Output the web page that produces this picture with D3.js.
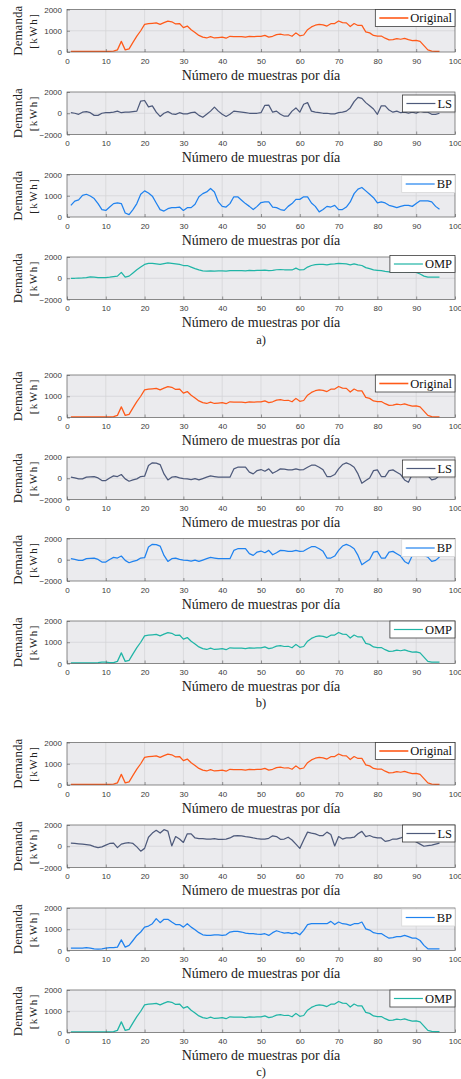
<!DOCTYPE html>
<html>
<head>
<meta charset="utf-8">
<script src="https://cdn.jsdelivr.net/npm/d3@7"></script>
<style>
  html, body { margin: 0; padding: 0; background: #ffffff; }
  svg { display: block; }
  .serif { font-family: "Liberation Serif", "Times New Roman", Times, "DejaVu Serif", serif; }
  .sans { font-family: "Liberation Sans", Arial, Helvetica, sans-serif; }
</style>
</head>
<body>
<svg id="chart" width="461" height="1079"></svg>
<script>
// ---- data: demand per sample (96 samples per day), kWh ----
const samples = d3.range(1, 97);
const xTickValues = [0, 10, 20, 30, 40, 50, 60, 70, 80, 90, 100];
const yTicksPositive = [0, 1000, 2000];
const yTicksSigned = [-2000, 0, 2000];
const xLabelText = "Número de muestras por día";
const yLabelText = "Demanda";
const yUnitText = "[kWh]";
const groupLabels = ["a)", "b)", "c)"];

const original = [
  30, 30, 30, 30, 30, 30, 30, 30, 30, 30, 30, 40, 100, 500, 100, 150, 450, 750, 1000, 1300,
  1330, 1350, 1370, 1300, 1380, 1450, 1420, 1320, 1340, 1150, 1220, 1050, 920, 780, 700, 660, 720, 660, 680, 700,
  650, 740, 720, 720, 720, 700, 730, 720, 730, 740, 780, 700, 740, 820, 840, 800, 810, 740, 900, 760,
  800, 1050, 1180, 1260, 1300, 1280, 1220, 1330, 1340, 1460, 1380, 1370, 1200, 1340, 1250, 1250, 950, 900, 780, 750,
  750, 650, 570, 580, 630, 600, 640, 580, 540, 550, 500, 300, 100, 40, 30, 30
];

const lsA = [
  50, 0, -100, 100, 150, 50, -200, -200, 0, 50, 50, 100, 200, 50, 100, 100, 150, 200, 1150, 1200,
  600, 700, 100, -300, 0, 150, -50, -100, 50, -50, -50, 50, 100, -200, -380, -100, 200, 580, 200, -100,
  -300, -100, 200, 150, 100, 50, 0, 0, 0, 50, 750, 760, 100, 200, -100, -280, -280, 200, 500, 100,
  850, 1000, 200, 100, 50, 0, 0, -50, -50, 50, 100, 200, 500, 1100, 1500, 1400, 1000, 700, 400, -100,
  700, 700, 300, 100, 200, 50, 100, 0, 100, 0, 200, 100, 100, -100, -100, 0
];

const bpA = [
  550, 750, 810, 1020, 1070, 990, 870, 630, 350, 310, 470, 630, 660, 630, 190, 110, 350, 630, 1070, 1230,
  1130, 980, 660, 350, 280, 390, 440, 440, 470, 310, 440, 440, 600, 950, 1100, 1180, 1340, 1180, 710, 500,
  470, 630, 950, 950, 790, 630, 500, 350, 500, 680, 710, 710, 470, 440, 350, 310, 500, 630, 830, 830,
  950, 950, 660, 500, 240, 350, 500, 470, 550, 350, 350, 470, 710, 1100, 1310, 1390, 1230, 1070, 910, 660,
  710, 660, 550, 500, 440, 500, 550, 550, 500, 630, 760, 760, 760, 710, 500, 360
];

const ompA = [
  0, 0, 20, 30, 60, 120, 100, 60, 50, 60, 100, 150, 200, 550, 100, 200, 500, 800, 1050, 1300,
  1400, 1400, 1350, 1300, 1380, 1450, 1400, 1350, 1300, 1200, 1200, 1050, 900, 780, 700, 670, 700, 680, 690, 700,
  680, 720, 720, 720, 720, 700, 730, 720, 730, 740, 760, 720, 740, 800, 820, 800, 800, 780, 950, 780,
  800, 1050, 1200, 1280, 1300, 1300, 1250, 1330, 1350, 1400, 1380, 1350, 1250, 1350, 1250, 1200, 1000, 900, 780, 750,
  720, 650, 600, 600, 620, 600, 600, 580, 560, 550, 400, 200, 100, 100, 100, 100
];

const lsB = [
  100, 30, -60, -60, 100, 130, 160, 30, -220, -220, 30, 220, 160, 350, -60, -280, -160, -60, 160, 190,
  1200, 1450, 1420, 1290, 410, -160, 100, 160, 30, -30, -60, -130, -30, -160, -30, 100, 220, 160, 100, 100,
  100, 100, 880, 1040, 1040, 1040, 570, 410, 720, 820, 660, 880, 470, 660, 880, 850, 790, 790, 880, 790,
  820, 1040, 1230, 1230, 1040, 790, 160, 160, 350, 880, 1290, 1450, 1290, 1040, 410, -470, -220, 30, 720, 790,
  160, 160, 720, 790, 570, 350, -160, -380, 410, 600, 500, 400, 250, -160, -60, 250
];

const bpB = [
  100, 30, -60, -60, 100, 130, 160, 30, -220, -220, 30, 220, 160, 350, -60, -280, -160, -60, 160, 190,
  1200, 1450, 1420, 1290, 410, -160, 100, 160, 30, -30, -60, -130, -30, -160, -30, 100, 220, 160, 100, 100,
  100, 100, 880, 1040, 1040, 1040, 570, 410, 720, 820, 660, 880, 470, 660, 880, 850, 790, 790, 880, 790,
  820, 1040, 1230, 1230, 1040, 790, 160, 160, 350, 880, 1290, 1450, 1290, 1040, 410, -470, -220, 30, 720, 790,
  160, 160, 720, 790, 570, 350, -160, -380, 410, 600, 500, 400, 250, -160, -60, 250
];

const ompB = [
  30, 30, 30, 30, 30, 30, 30, 40, 60, 60, 40, 40, 100, 500, 100, 150, 450, 750, 1000, 1300,
  1330, 1350, 1370, 1300, 1380, 1450, 1420, 1320, 1340, 1150, 1220, 1050, 920, 780, 700, 660, 720, 660, 680, 700,
  650, 740, 720, 720, 720, 700, 730, 720, 730, 740, 780, 700, 740, 820, 840, 800, 810, 740, 900, 760,
  800, 1050, 1180, 1260, 1300, 1280, 1220, 1330, 1340, 1460, 1380, 1370, 1200, 1340, 1250, 1250, 950, 900, 780, 750,
  750, 650, 570, 580, 630, 600, 640, 580, 540, 550, 500, 300, 100, 60, 60, 60
];

const lsC = [
  290, 260, 230, 200, 160, 100, -30, -130, -60, 100, 260, 290, -130, 200, 290, 330, 260, -60, -460, -200,
  850, 1240, 1500, 1240, 1560, 1430, 30, 910, 680, 360, 1170, 1170, 780, 720, 720, 680, 680, 720, 650, 650,
  680, 780, 980, 1010, 980, 910, 850, 780, 720, 680, 680, 750, 980, 910, 650, 680, 850, 590, 200, -200,
  590, 1330, 1240, 1170, 1010, 1010, 1330, 1110, 30, 910, 680, 780, 780, 850, 1170, 1400, 910, 1010, 850, 780,
  780, 460, 520, 680, 680, 780, 910, 900, 700, 400, 200, 0, 50, 100, 200, 300
];

const bpC = [
  110, 110, 110, 110, 130, 110, 80, 60, 80, 110, 140, 140, 160, 500, 160, 240, 470, 710, 870, 1100,
  1150, 1260, 1500, 1310, 1470, 1470, 1340, 1220, 1220, 1100, 1260, 1100, 980, 840, 740, 710, 710, 740, 740, 710,
  740, 870, 900, 900, 870, 820, 790, 790, 770, 760, 790, 710, 840, 930, 870, 820, 840, 790, 840, 740,
  950, 1220, 1260, 1260, 1260, 1260, 1260, 1370, 1220, 1340, 1260, 1240, 1180, 1260, 1260, 1340, 1020, 960, 840, 800,
  800, 680, 580, 610, 650, 650, 710, 650, 580, 580, 470, 240, 80, 80, 80, 80
];

const ompC = [
  30, 30, 30, 30, 30, 30, 30, 30, 30, 30, 30, 40, 100, 500, 100, 150, 450, 750, 1000, 1300,
  1330, 1350, 1370, 1300, 1380, 1450, 1420, 1320, 1340, 1150, 1220, 1050, 920, 780, 700, 660, 720, 660, 680, 700,
  650, 740, 720, 720, 720, 700, 730, 720, 730, 740, 780, 700, 740, 820, 840, 800, 810, 740, 900, 760,
  800, 1050, 1180, 1260, 1300, 1280, 1220, 1330, 1340, 1460, 1380, 1370, 1200, 1340, 1250, 1250, 950, 900, 780, 750,
  750, 650, 570, 580, 630, 600, 640, 580, 540, 550, 500, 300, 100, 50, 40, 40
];

// ---- styling ----
const colors = {
  Original: "#ff5a19",
  LS: "#4e5a7b",
  BP: "#1f82ef",
  OMP: "#20b5a6"
};

// panel layout: top edge of each axes box
const panels = [
  { top: 9.5,   series: original, name: "Original", domain: [0, 2000],     ticks: yTicksPositive, legTop: 0 },
  { top: 92,    series: lsA,      name: "LS",       domain: [-2000, 2000], ticks: yTicksSigned,   legTop: 3 },
  { top: 174.5, series: bpA,      name: "BP",       domain: [0, 2000],     ticks: yTicksPositive, legTop: 1 },
  { top: 257,   series: ompA,     name: "OMP",      domain: [-2000, 2000], ticks: yTicksSigned,   legTop: -1.5 },
  { top: 375,   series: original, name: "Original", domain: [0, 2000],     ticks: yTicksPositive, legTop: 0 },
  { top: 457,   series: lsB,      name: "LS",       domain: [-2000, 2000], ticks: yTicksSigned,   legTop: 3 },
  { top: 538.5, series: bpB,      name: "BP",       domain: [-2000, 2000], ticks: yTicksSigned,   legTop: 1 },
  { top: 621,   series: ompB,     name: "OMP",      domain: [0, 2000],     ticks: yTicksPositive, legTop: 0 },
  { top: 742.5, series: original, name: "Original", domain: [0, 2000],     ticks: yTicksPositive, legTop: 0 },
  { top: 825,   series: lsC,      name: "LS",       domain: [-2000, 2000], ticks: yTicksSigned,   legTop: 0 },
  { top: 908,   series: bpC,      name: "BP",       domain: [0, 2000],     ticks: yTicksPositive, legTop: 1 },
  { top: 990,   series: ompC,     name: "OMP",      domain: [0, 2000],     ticks: yTicksPositive, legTop: 0 }
];
const groupLabelY = [344, 707, 1076];

const plotLeft = 67;
const plotRight = 455;
const plotH = 42.5;

const svg = d3.select("#chart");
const x = d3.scaleLinear().domain([0, 100]).range([plotLeft, plotRight]);
const tickFmt = d3.format("d");

panels.forEach((p) => {
  const y = d3.scaleLinear().domain(p.domain).range([p.top + plotH, p.top]);
  const g = svg.append("g");

  // plot area background
  g.append("rect")
    .attr("x", plotLeft).attr("y", p.top)
    .attr("width", plotRight - plotLeft).attr("height", plotH)
    .attr("fill", "#ebebee");

  // grid
  g.append("g").selectAll("line")
    .data(xTickValues.slice(1, -1))
    .join("line")
    .attr("x1", d => x(d)).attr("x2", d => x(d))
    .attr("y1", p.top).attr("y2", p.top + plotH)
    .attr("stroke", "#d2d2d6").attr("stroke-width", 0.7);
  g.append("g").selectAll("line")
    .data(p.ticks.slice(1, -1))
    .join("line")
    .attr("x1", plotLeft).attr("x2", plotRight)
    .attr("y1", d => y(d)).attr("y2", d => y(d))
    .attr("stroke", "#d2d2d6").attr("stroke-width", 0.7);

  // data line
  const line = d3.line().x((d, i) => x(samples[i])).y(d => y(d));
  g.append("path")
    .datum(p.series)
    .attr("d", line)
    .attr("fill", "none")
    .attr("stroke", colors[p.name])
    .attr("stroke-width", 1.25)
    .attr("stroke-linejoin", "round");

  // axes
  const xAxis = d3.axisBottom(x).tickValues(xTickValues).tickFormat(tickFmt).tickSize(-3).tickPadding(6);
  const ax = g.append("g").attr("transform", `translate(0,${p.top + plotH})`).call(xAxis);
  const yAxis = d3.axisLeft(y).tickValues(p.ticks).tickFormat(tickFmt).tickSize(-3).tickPadding(5);
  const ay = g.append("g").attr("transform", `translate(${plotLeft},0)`).call(yAxis);
  [ax, ay].forEach(a => {
    a.attr("font-family", null).attr("font-size", null);
    a.select(".domain").remove();
    a.selectAll(".tick line").attr("stroke", "#555").attr("stroke-width", 0.6);
    a.selectAll(".tick text")
      .attr("class", "sans").attr("font-size", 8).attr("fill", "#3a3a3a");
  });

  // axes box
  g.append("rect")
    .attr("x", plotLeft).attr("y", p.top)
    .attr("width", plotRight - plotLeft).attr("height", plotH)
    .attr("fill", "none").attr("stroke", "#5a5a5a").attr("stroke-width", 0.7);

  // axis labels
  g.append("text")
    .attr("class", "serif")
    .attr("x", (plotLeft + plotRight) / 2).attr("y", p.top + plotH + 27.5)
    .attr("text-anchor", "middle")
    .attr("font-size", 14).attr("fill", "#222")
    .text(xLabelText);

  const cy = p.top + plotH / 2;
  g.append("text")
    .attr("class", "serif")
    .attr("transform", `translate(22,${cy}) rotate(-90)`)
    .attr("text-anchor", "middle")
    .attr("font-size", 13).attr("fill", "#222")
    .text(yLabelText);
  g.append("text")
    .attr("class", "serif")
    .attr("transform", `translate(37,${cy}) rotate(-90)`)
    .attr("text-anchor", "middle")
    .attr("font-size", 11).attr("fill", "#222")
    .attr("letter-spacing", 1.5)
    .text(yUnitText);

  // legend
  const lg = g.append("g");
  const legText = lg.append("text")
    .attr("class", "serif")
    .attr("font-size", 12.5).attr("fill", "#111")
    .text(p.name);
  const tw = legText.node().getComputedTextLength();
  const lineLen = 29, padL = 4, gap = 2, padR = 3, legH = 17;
  const legW = padL + lineLen + gap + tw + padR;
  const lx = plotRight - legW;
  const ly = p.top + p.legTop;
  lg.insert("rect", "text")
    .attr("x", lx).attr("y", ly).attr("width", legW).attr("height", legH)
    .attr("fill", "#ffffff")
    .attr("stroke", p.name === "BP" ? "#d8d8d8" : "#3c3c3c")
    .attr("stroke-width", 0.8);
  lg.append("line")
    .attr("x1", lx + padL).attr("x2", lx + padL + lineLen)
    .attr("y1", ly + legH / 2).attr("y2", ly + legH / 2)
    .attr("stroke", colors[p.name]).attr("stroke-width", p.name === "Original" ? 1.6 : 1.2);
  legText.attr("x", lx + padL + lineLen + gap).attr("y", ly + legH / 2 + 4.3);
});

// group captions
groupLabels.forEach((t, i) => {
  svg.append("text")
    .attr("class", "serif")
    .attr("x", (plotLeft + plotRight) / 2).attr("y", groupLabelY[i])
    .attr("text-anchor", "middle")
    .attr("font-size", 12.5).attr("fill", "#222")
    .text(t);
});
</script>
</body>
</html>
